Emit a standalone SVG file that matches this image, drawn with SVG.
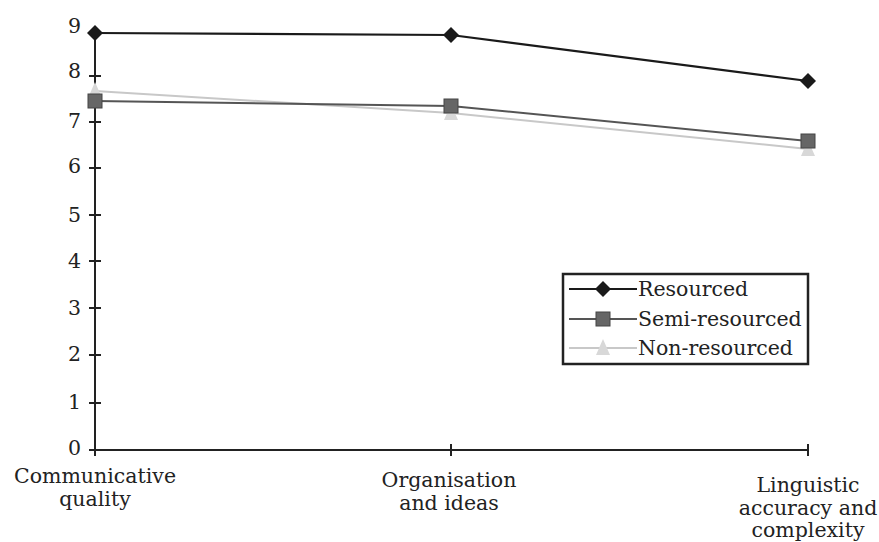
<svg xmlns="http://www.w3.org/2000/svg" width="879" height="542" viewBox="0 0 879 542">
<style>
text{font-family:"DejaVu Serif","Liberation Serif",serif;font-size:20.5px;fill:#222}
.yl{text-anchor:end}
.xl{text-anchor:middle}
.axis{stroke:#222;stroke-width:2;fill:none}
.res{stroke:#1a1a1a;stroke-width:2.2;fill:none}
.semi{stroke:#555;stroke-width:2;fill:none}
.non{stroke:#c8c8c8;stroke-width:2;fill:none}
</style>
<defs>
<path id="dia" d="M0,-8 L8,0 L0,8 L-8,0 Z" fill="#1a1a1a"/>
<rect id="sq" x="-7" y="-7" width="14" height="14" fill="#666" stroke="#444" stroke-width="1"/>
<path id="tri" d="M0,-9 L7,7 L-7,7 Z" fill="#d8d8d8"/>
</defs>
<g id="axes">
<path class="axis" d="M95,33 V450 H808"/>
<path class="axis" d="M89,76 H101 M89,122 H101 M89,168 H101 M89,215 H101 M89,261 H101 M89,308 H101 M89,355 H101 M89,403 H101 M89,450 H101"/>
<path class="axis" d="M95,444 V456 M451,444 V456 M808,444 V456"/>
</g>
<g id="y-labels">
<text class="yl" x="81" y="33">9</text>
<text class="yl" x="81" y="78">8</text>
<text class="yl" x="81" y="128">7</text>
<text class="yl" x="81" y="173">6</text>
<text class="yl" x="81" y="222">5</text>
<text class="yl" x="81" y="268">4</text>
<text class="yl" x="81" y="315">3</text>
<text class="yl" x="81" y="361">2</text>
<text class="yl" x="81" y="409">1</text>
<text class="yl" x="81" y="455">0</text>
</g>
<g id="x-labels">
<text class="xl" x="95" y="483">Communicative</text>
<text class="xl" x="95" y="506">quality</text>
<text class="xl" x="449" y="487">Organisation</text>
<text class="xl" x="449" y="510">and ideas</text>
<text class="xl" x="808" y="492">Linguistic</text>
<text class="xl" x="808" y="515">accuracy and</text>
<text class="xl" x="808" y="537">complexity</text>
</g>
<g id="connectors">
<polyline class="non" points="95,91 451,113 808,149"/>
<polyline class="semi" points="95,101 451,106 808,141"/>
<polyline class="res" points="95,33 451,35 808,81"/>
</g>
<g id="series-non">
<use href="#tri" x="95" y="91"/><use href="#tri" x="451" y="113"/><use href="#tri" x="808" y="149"/>
</g>
<g id="series-semi">
<use href="#sq" x="95" y="101"/><use href="#sq" x="451" y="106"/><use href="#sq" x="808" y="141"/>
</g>
<g id="series-res">
<use href="#dia" x="95" y="33"/><use href="#dia" x="451" y="35"/><use href="#dia" x="808" y="81"/>
</g>
<g id="legend">
<rect x="563" y="274" width="245" height="90" fill="#fff" stroke="#222" stroke-width="2.5"/>
<line class="res" x1="569" y1="289" x2="637" y2="289"/><use href="#dia" x="603" y="289"/>
<line class="semi" x1="569" y1="319" x2="637" y2="319"/><use href="#sq" x="603" y="319"/>
<line class="non" x1="569" y1="348" x2="637" y2="348"/><use href="#tri" x="603" y="348"/>
<text x="638" y="296">Resourced</text>
<text x="638" y="326">Semi-resourced</text>
<text x="638" y="355">Non-resourced</text>
</g>
</svg>
